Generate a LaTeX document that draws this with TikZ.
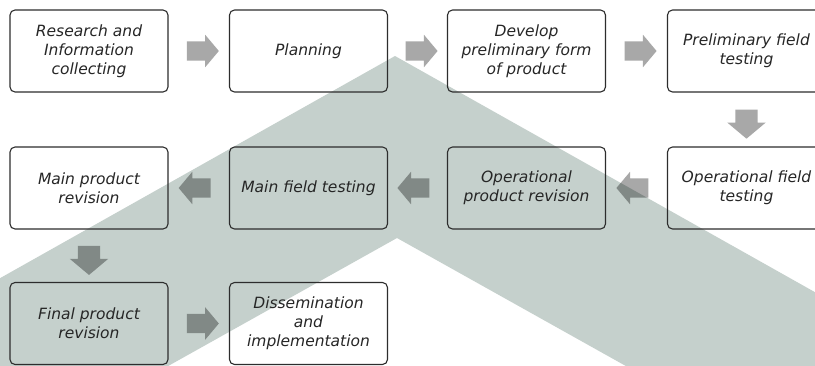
\documentclass[tikz,border=0pt]{standalone}
\usepackage{fontspec}
\setmainfont{DejaVu Sans}
\usetikzlibrary{calc,shapes.arrows}
\definecolor{wmark}{RGB}{197,208,204}
\definecolor{boxline}{RGB}{45,45,45}
\definecolor{arrowgray}{RGB}{168,168,168}

\begin{document}
\begin{tikzpicture}[
  x=1pt,y=-1pt,
  font=\fontsize{15.5}{19}\selectfont\itshape,
  stage/.style={draw=boxline,line width=1.1pt,rounded corners=5pt,align=center,
                minimum width=158pt,minimum height=82pt,inner sep=2pt,text=black!85},
  blockarrow/.style={single arrow,fill=arrowgray,draw=none,blend mode=multiply,
                inner sep=0pt,inner ysep=9.5pt,single arrow head extend=6.5pt,
                single arrow tip angle=100,minimum height=32pt,minimum width=32pt},
  downarrow/.style={blockarrow,shape border rotate=270,inner ysep=0pt,inner xsep=11pt,
                single arrow head extend=8pt,minimum height=29pt,minimum width=38pt},
  backarrow/.style={blockarrow,shape border rotate=180},
]
\useasboundingbox (0,0) rectangle (815,365);
\clip (0,0) rectangle (815,365);
\fill[white] (0,0) rectangle (815,365);
% the big chevron behind everything
\fill[wmark] (-5,281) -- (395,56) -- (820,295) -- (820,370) -- (633,370)
  -- (397,238) -- (161,370) -- (-5,370) -- cycle;
% top row
\node[stage] (research) at (89,51)    {Research and\\Information\\collecting};
\node[stage] (planning) at (308.5,51) {Planning};
\node[stage] (develop)  at (526.5,51) {Develop\\preliminary form\\of product};
\node[stage] (prelim)   at (746.5,51) {Preliminary field\\testing};
% middle row, right to left
\node[stage] (opfield)   at (746.5,188) {Operational field\\testing};
\node[stage] (oprev)     at (526.5,188) {Operational\\product revision};
\node[stage] (mainfield) at (308.5,188) {Main field testing};
\node[stage] (mainrev)   at (89,188)    {Main product\\revision};
% bottom row
\node[stage] (finalrev) at (89,323.5)    {Final product\\revision};
\node[stage] (dissem)   at (308.5,323.5) {Dissemination\\and\\implementation};
% ---- arrows ----
\node[blockarrow] (a1) at ($(research.east)!0.5!(planning.west)$) {};
\node[blockarrow] (a2) at ($(planning.east)!0.5!(develop.west)$) {};
\node[blockarrow] (a3) at ($(develop.east)!0.5!(prelim.west)$) {};
\node[downarrow]  (a4) at ($(prelim.south)!0.5!(opfield.north)$) {};
\node[backarrow]  (a5) at ($(opfield.west)!0.5!(oprev.east)$) {};
\node[backarrow]  (a6) at ($(oprev.west)!0.5!(mainfield.east)$) {};
\node[backarrow]  (a7) at ($(mainfield.west)!0.5!(mainrev.east)$) {};
\node[downarrow]  (a8) at ($(mainrev.south)!0.5!(finalrev.north)$) {};
\node[blockarrow] (a9) at ($(finalrev.east)!0.5!(dissem.west)$) {};
\end{tikzpicture}
\end{document}
